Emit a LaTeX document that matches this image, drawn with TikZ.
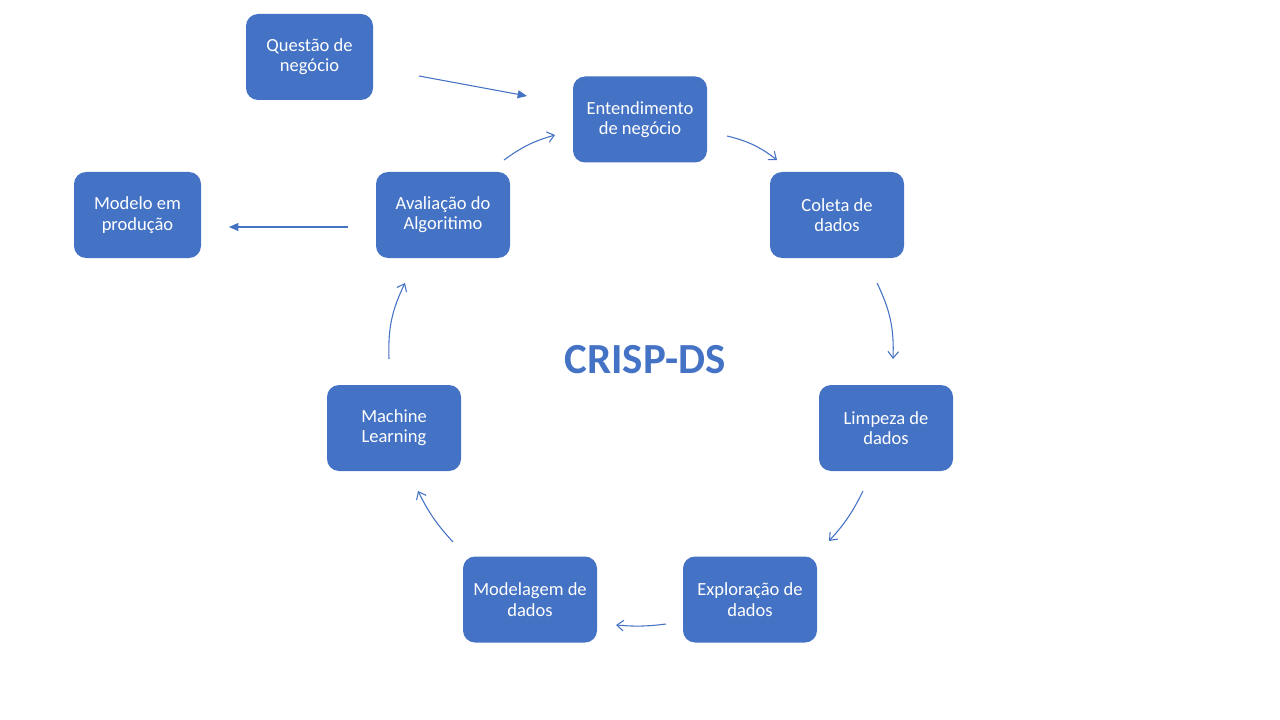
\documentclass[tikz,border=0pt]{standalone}
\usepackage{fontspec}
\setmainfont{Carlito}
\usetikzlibrary{arrows.meta}
\definecolor{blu}{HTML}{4472C4}
\tikzset{
  stepbox/.style={fill=blu, draw=none, rounded corners=9pt, minimum height=64.5pt,
    text=white, align=center, font=\fontsize{13.9}{15.2}\selectfont, inner sep=0pt},
  wide/.style={minimum width=100.5pt},
  narrow/.style={minimum width=95.25pt},
  openarr/.style={draw=blu, line width=0.8pt, -{Straight Barb[length=5pt,width=8pt]}},
  filledarr/.style={draw=blu, line width=0.8pt, -{Triangle[length=7pt,width=6pt]}},
}
\begin{document}
\begin{tikzpicture}[x=0.75pt,y=-0.75pt]
\useasboundingbox (0,0) rectangle (1280,720);
\node[stepbox,narrow] (q) at (309.5,57) {Questão de\\negócio};
\node[stepbox,wide] (e) at (640,119.5) {Entendimento\\de negócio};
\node[stepbox,wide] (c) at (837,215) {Coleta de\\dados};
\node[stepbox,wide] (l) at (886,428) {Limpeza de\\dados};
\node[stepbox,wide] (x) at (750,599.5) {Exploração de\\dados};
\node[stepbox,wide] (m) at (530,599.5) {Modelagem de\\dados};
\node[stepbox,wide] (ml) at (394,428) {Machine\\Learning};
\node[stepbox,wide] (a) at (443,215) {Avaliação do\\Algoritimo};
\node[stepbox,narrow] (p) at (137.5,215) {Modelo em\\produção};
\node[text=blu, font=\fontsize{32.2}{36}\selectfont\bfseries] (t) at (645,360) {CRISP-DS};

\coordinate (q1) at (419,76);   \coordinate (q2) at (527,96);
\coordinate (e1) at (727,136);  \coordinate (e2) at (777,160);
\coordinate (c1) at (877,283);  \coordinate (c2) at (893,359);
\coordinate (l1) at (863,491);  \coordinate (l2) at (829,541);
\coordinate (x1) at (666,624);  \coordinate (x2) at (616,625);
\coordinate (m1) at (453,542);  \coordinate (m2) at (418,491);
\coordinate (ml1) at (389,359); \coordinate (ml2) at (405,283);
\coordinate (a1) at (504,160);  \coordinate (a2) at (555,135);
\coordinate (p1) at (348,227);  \coordinate (p2) at (229,227);

\draw[filledarr] (q1) -- (q2);
\draw[openarr] (e1) to[bend left=12] (e2);
\draw[openarr] (c1) to[bend left=14] (c2);
\draw[openarr] (l1) to[bend left=8] (l2);
\draw[openarr] (x1) to[bend left=6] (x2);
\draw[openarr] (m1) to[bend left=8] (m2);
\draw[openarr] (ml1) to[bend left=14] (ml2);
\draw[openarr] (a1) to[bend left=10] (a2);
\draw[filledarr] (p1) -- (p2);
\end{tikzpicture}
\end{document}
